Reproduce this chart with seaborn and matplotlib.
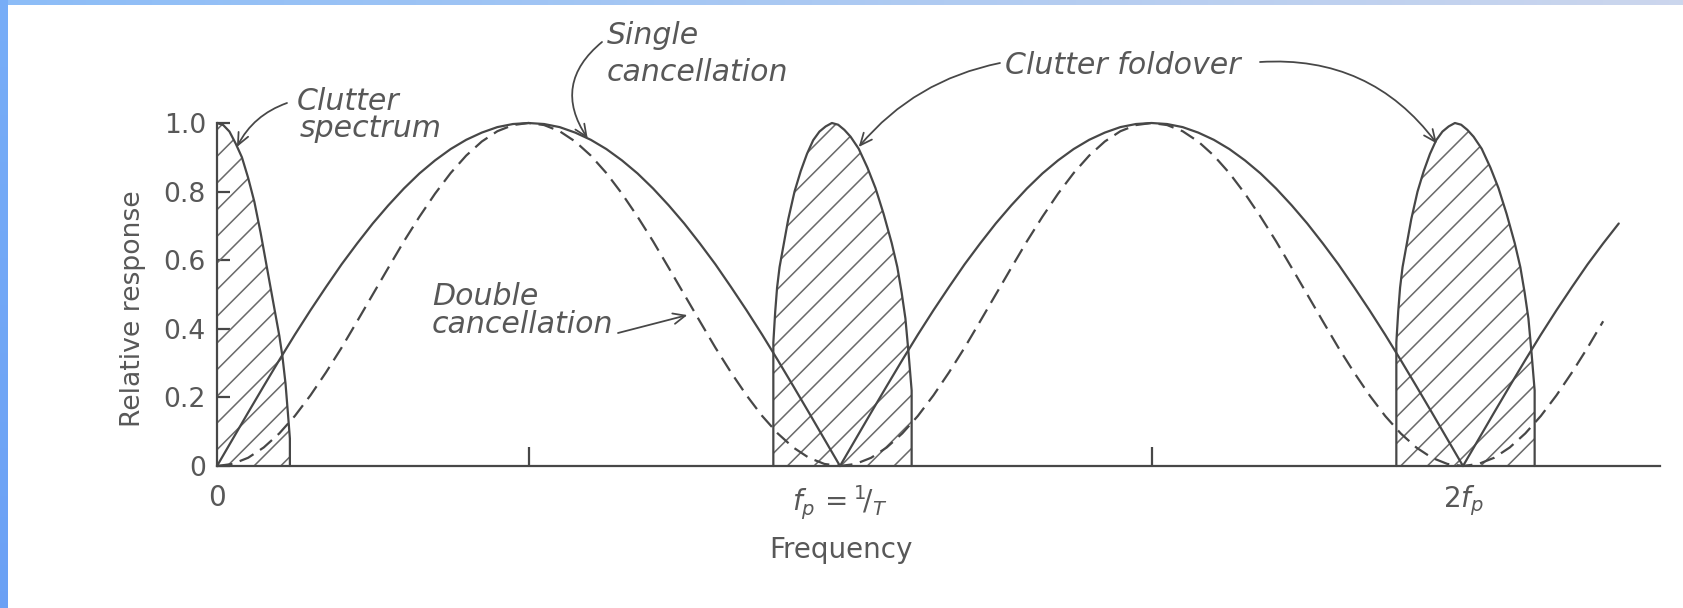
import numpy as np
import matplotlib
matplotlib.use("Agg")
import matplotlib.pyplot as plt
import seaborn as sns

# ---- data (frequency in units of the pulse repetition frequency f_p) ----
freq_single = [round(0.025 * k, 3) for k in range(91)]          # 0.000 ... 2.250
single_resp = [
    0.000, 0.078, 0.156, 0.233, 0.309, 0.383, 0.454, 0.522, 0.588, 0.649,
    0.707, 0.760, 0.809, 0.853, 0.891, 0.924, 0.951, 0.972, 0.988, 0.997,
    1.000, 0.997, 0.988, 0.972, 0.951, 0.924, 0.891, 0.853, 0.809, 0.760,
    0.707, 0.649, 0.588, 0.522, 0.454, 0.383, 0.309, 0.233, 0.156, 0.078,
    0.000, 0.078, 0.156, 0.233, 0.309, 0.383, 0.454, 0.522, 0.588, 0.649,
    0.707, 0.760, 0.809, 0.853, 0.891, 0.924, 0.951, 0.972, 0.988, 0.997,
    1.000, 0.997, 0.988, 0.972, 0.951, 0.924, 0.891, 0.853, 0.809, 0.760,
    0.707, 0.649, 0.588, 0.522, 0.454, 0.383, 0.309, 0.233, 0.156, 0.078,
    0.000, 0.078, 0.156, 0.233, 0.309, 0.383, 0.454, 0.522, 0.588, 0.649,
    0.707]

freq_double = [round(0.025 * k, 3) for k in range(90)]          # 0.000 ... 2.225
double_resp = [
    0.000, 0.006, 0.024, 0.054, 0.095, 0.146, 0.206, 0.273, 0.345, 0.422,
    0.500, 0.578, 0.655, 0.727, 0.794, 0.854, 0.905, 0.946, 0.976, 0.994,
    1.000, 0.994, 0.976, 0.946, 0.905, 0.854, 0.794, 0.727, 0.655, 0.578,
    0.500, 0.422, 0.345, 0.273, 0.206, 0.146, 0.095, 0.054, 0.024, 0.006,
    0.000, 0.006, 0.024, 0.054, 0.095, 0.146, 0.206, 0.273, 0.345, 0.422,
    0.500, 0.578, 0.655, 0.727, 0.794, 0.854, 0.905, 0.946, 0.976, 0.994,
    1.000, 0.994, 0.976, 0.946, 0.905, 0.854, 0.794, 0.727, 0.655, 0.578,
    0.500, 0.422, 0.345, 0.273, 0.206, 0.146, 0.095, 0.054, 0.024, 0.006,
    0.000, 0.006, 0.024, 0.054, 0.095, 0.146, 0.206, 0.273, 0.345, 0.422]

# clutter spectrum centred on zero frequency (positive half)
clutter_freq = [0.000, 0.010, 0.020, 0.030, 0.040, 0.050, 0.060, 0.070, 0.080,
                0.090, 0.100, 0.105, 0.110, 0.114, 0.117]
clutter_level = [1.000, 0.994, 0.975, 0.940, 0.900, 0.840, 0.770, 0.680, 0.580,
                 0.480, 0.380, 0.320, 0.240, 0.150, 0.080]

# clutter folded over to multiples of f_p (offset from n*f_p)
fold_offset = [-0.107, -0.104, -0.101, -0.097, -0.093, -0.083, -0.073, -0.063,
               -0.053, -0.043, -0.033, -0.023, -0.013, -0.003, 0.007, 0.017,
               0.030, 0.044, 0.057, 0.070, 0.083, 0.092, 0.099, 0.105, 0.110,
               0.115]
fold_level = [0.36, 0.45, 0.52, 0.58, 0.62, 0.72, 0.80, 0.86, 0.91, 0.95, 0.975,
              0.99, 1.00, 0.995, 0.98, 0.96, 0.925, 0.87, 0.81, 0.735, 0.65, 0.58,
              0.505, 0.43, 0.33, 0.22]
fold_centres = [1.0, 2.0]

y_ticks = [0.0, 0.2, 0.4, 0.6, 0.8, 1.0]
y_tick_labels = ["0", "0.2", "0.4", "0.6", "0.8", "1.0"]
x_ticks = [0.0, 1.0, 2.0]
x_tick_labels = ["0", r"$f_p\,={}^{1}\!/_{T}$", r"$2f_p$"]

# ---- style ----
sns.set_theme(style="white")
plt.rcParams["font.family"] = ["DejaVu Sans"]
plt.rcParams["hatch.linewidth"] = 0.7
plt.rcParams["hatch.color"] = "#6a6a6a"

LINE = "#474747"
TEXT = "#585858"
HATCH = "#6a6a6a"

W, H, DPI = 1683, 608, 160
fig = plt.figure(figsize=(W / DPI, H / DPI), dpi=DPI, facecolor="white")

# blue frame strips along the top and left edges
top = np.zeros((5, W, 3))
t = np.linspace(0, 1, W)
for i, (a, b) in enumerate(zip((0.55, 0.74, 0.97), (0.80, 0.84, 0.93))):
    top[:, :, i] = a + (b - a) * t
fig.figimage(top, xo=0, yo=H - 5, origin="upper", zorder=5)
left = np.zeros((H, 8, 3))
s = np.linspace(0, 1, H)[:, None]
for i, (a, b) in enumerate(zip((0.47, 0.68, 0.97), (0.42, 0.63, 0.96))):
    left[:, :, i] = a + (b - a) * s
fig.figimage(left, xo=0, yo=0, origin="upper", zorder=6)

x_lo, x_hi = 217, 1660
y_base, y_top = 466, 123
ax = fig.add_axes([x_lo / W, (H - y_base) / H, (x_hi - x_lo) / W, (y_base - y_top) / H])
ax.set_facecolor("none")

# clutter spectrum at zero frequency
ax.fill_between(clutter_freq, 0, clutter_level, facecolor="none", edgecolor=HATCH,
                hatch="//", linewidth=0, zorder=1)
sns.lineplot(x=clutter_freq + [clutter_freq[-1]], y=clutter_level + [0.0],
             sort=False, estimator=None, color=LINE, linewidth=1.0, ax=ax,
             clip_on=False, zorder=3)

# folded-over clutter lobes
for c in fold_centres:
    xs = [c + o for o in fold_offset]
    ax.fill_between(xs, 0, fold_level, facecolor="none", edgecolor=HATCH,
                    hatch="//", linewidth=0, zorder=1)
    sns.lineplot(x=[xs[0]] + xs + [xs[-1]], y=[0.0] + fold_level + [0.0],
                 sort=False, estimator=None, color=LINE, linewidth=1.0, ax=ax,
                 clip_on=False, zorder=3)

# canceller responses
sns.lineplot(x=freq_single, y=single_resp, color=LINE, linewidth=1.0, ax=ax,
             clip_on=False, zorder=4)
sns.lineplot(x=freq_double, y=double_resp, color=LINE, linewidth=1.0, ax=ax,
             linestyle=(0, (7, 3.5)), clip_on=False, zorder=4)

ax.set_xlim(0, (x_hi - x_lo) / 623.0)
ax.set_ylim(0, 1.0)
for side in ("top", "right"):
    ax.spines[side].set_visible(False)
for side in ("left", "bottom"):
    ax.spines[side].set_color(LINE)
    ax.spines[side].set_linewidth(1.0)

ax.set_yticks(y_ticks)
ax.set_yticklabels(y_tick_labels)
ax.set_xticks(x_ticks)
ax.set_xticklabels(x_tick_labels)
ax.set_xticks([0.5, 1.5], minor=True)
ax.tick_params(axis="y", direction="in", length=6, width=1.0, color=LINE,
               labelcolor=TEXT, labelsize=12, pad=5, left=True)
ax.tick_params(axis="x", which="major", length=0, labelcolor=TEXT, labelsize=12.5, pad=8)
ax.tick_params(axis="x", which="minor", direction="in", length=8.5, width=1.0,
               color=LINE, bottom=True)

ax.set_ylabel("Relative response", fontsize=12, color=TEXT)
ax.yaxis.set_label_coords((146 - x_lo) / (x_hi - x_lo), (y_base - 309) / (y_base - y_top))
ax.set_xlabel("Frequency", fontsize=12.5, color=TEXT)
ax.xaxis.set_label_coords((841 - x_lo) / (x_hi - x_lo), (y_base - 536) / (y_base - y_top))


def label(x, y, s):
    fig.text(x / W, 1 - y / H, s, ha="left", va="baseline", fontsize=13.5,
             style="italic", color=TEXT)


label(297, 110, "Clutter")
label(300, 137, "spectrum")
label(607, 44, "Single")
label(607, 81, "cancellation")
label(432, 305, "Double")
label(432, 333, "cancellation")
label(1005, 74, "Clutter foldover")


def arrow(tip, start, rad):
    ax.annotate("", xy=tip, xycoords="data", xytext=(start[0], H - start[1]),
                textcoords="figure pixels", annotation_clip=False,
                arrowprops=dict(arrowstyle="->,head_length=0.45,head_width=0.2",
                                color=LINE, lw=0.8, shrinkA=0, shrinkB=0,
                                connectionstyle=f"arc3,rad={rad}"))


arrow((0.032, 0.93), (287, 103), 0.2)
arrow((0.595, 0.955), (602, 42), 0.45)
arrow((0.755, 0.44), (618, 333), 0.0)
arrow((1.03, 0.93), (1000, 63), 0.175)
arrow((1.958, 0.94), (1260, 62), -0.27)

fig.savefig("out.png", dpi=DPI, facecolor="white")
